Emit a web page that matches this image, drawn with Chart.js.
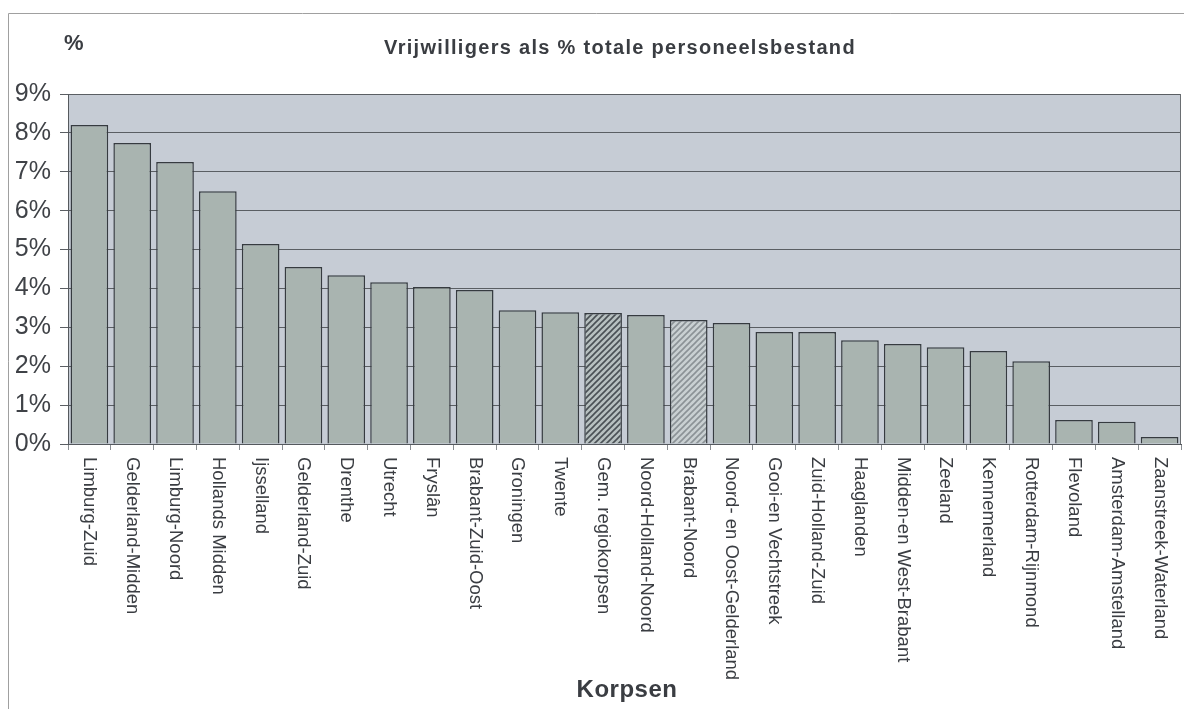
<!DOCTYPE html>
<html>
<head>
<meta charset="utf-8">
<script src="https://cdn.jsdelivr.net/npm/chart.js@4"></script>
<style>
  html, body { margin: 0; padding: 0; background: #fff; }
  #wrap { width: 1184px; height: 709px; position: relative; }
</style>
</head>
<body>
<div id="wrap"><canvas id="chart" width="1184" height="709"></canvas></div>
<script>
const korpsen = [
  "Limburg-Zuid", "Gelderland-Midden", "Limburg-Noord", "Hollands Midden",
  "Ijsselland", "Gelderland-Zuid", "Drenthe", "Utrecht", "Fryslân",
  "Brabant-Zuid-Oost", "Groningen", "Twente", "Gem. regiokorpsen",
  "Noord-Holland-Noord", "Brabant-Noord", "Noord- en Oost-Gelderland",
  "Gooi-en Vechtstreek", "Zuid-Holland-Zuid", "Haaglanden",
  "Midden-en West-Brabant", "Zeeland", "Kennemerland", "Rotterdam-Rijnmond",
  "Flevoland", "Amsterdam-Amstelland", "Zaanstreek-Waterland"
];
const vrijwilligersPct = [
  8.20, 7.74, 7.25, 6.50, 5.14, 4.55, 4.34, 4.16, 4.04, 3.96, 3.44, 3.39, 3.37,
  3.32, 3.19, 3.11, 2.88, 2.88, 2.67, 2.57, 2.49, 2.39, 2.13, 0.62, 0.57, 0.18
];
const yTicks = [0, 1, 2, 3, 4, 5, 6, 7, 8, 9];

const FONT = "'Liberation Sans', Arial, sans-serif";

// hatch patterns for the two highlighted bars
function hatch(bg, line) {
  const c = document.createElement("canvas");
  c.width = 6; c.height = 6;
  const g = c.getContext("2d");
  g.fillStyle = bg;
  g.fillRect(0, 0, 6, 6);
  g.strokeStyle = line;
  g.lineWidth = 1.6;
  g.beginPath();
  g.moveTo(-1, 7); g.lineTo(7, -1);
  g.moveTo(-4, 4); g.lineTo(4, -4);
  g.moveTo(2, 10); g.lineTo(10, 2);
  g.stroke();
  return g.createPattern(c, "repeat");
}

const ctx = document.getElementById("chart").getContext("2d");
const darkHatch = hatch("#b7c0c0", "#4a5055");
const lightHatch = hatch("#c9d0d2", "#8b9296");

const barColors = korpsen.map((k) => {
  if (k === "Gem. regiokorpsen") return darkHatch;
  if (k === "Brabant-Noord") return lightHatch;
  return "#a9b4b0";
});

const decorPlugin = {
  id: "decor",
  beforeDraw: (chart) => {
    const c = chart.ctx;
    const a = chart.chartArea;
    c.save();
    c.fillStyle = "#c6ccd5";
    c.fillRect(a.left, a.top, a.right - a.left, a.bottom - a.top);
    // outer frame
    c.strokeStyle = "#a0a0a0";
    c.lineWidth = 1;
    c.beginPath();
    c.moveTo(8.5, 709);
    c.lineTo(8.5, 13.5);
    c.lineTo(1184, 13.5);
    c.stroke();
    c.restore();
  },
  afterDraw: (chart) => {
    const c = chart.ctx;
    const a = chart.chartArea;
    const x = chart.scales.x;
    c.save();
    // right border of plot
    c.strokeStyle = "#6a6e72";
    c.lineWidth = 1;
    c.beginPath();
    c.moveTo(a.right - 0.5, a.top);
    c.lineTo(a.right - 0.5, a.bottom);
    c.stroke();

    c.fillStyle = "#3a3d42";
    c.font = "bold 22px " + FONT;
    c.textBaseline = "middle";
    c.textAlign = "left";
    c.fillText("%", 64, 44);
    c.textAlign = "center";
    c.font = "bold 20px " + FONT;
    c.letterSpacing = "1.3px";
    c.fillText("Vrijwilligers als % totale personeelsbestand", 620, 48);
    c.letterSpacing = "0.5px";
    c.font = "bold 24px " + FONT;
    c.fillText("Korpsen", 627, 690);
    c.letterSpacing = "0px";

    // category labels, reading top to bottom
    c.font = "18.5px " + FONT;
    c.fillStyle = "#3a3d42";
    c.textAlign = "left";
    c.textBaseline = "middle";
    korpsen.forEach((k, i) => {
      const px = x.getPixelForTick(i);
      c.save();
      c.translate(px, a.bottom + 13);
      c.rotate(Math.PI / 2);
      c.fillText(k, 0, 0);
      c.restore();
    });
    c.restore();
  }
};

new Chart(ctx, {
  type: "bar",
  data: {
    labels: korpsen,
    datasets: [{
      data: vrijwilligersPct,
      backgroundColor: barColors,
      borderColor: "#363b40",
      borderWidth: 1.5,
      barPercentage: 0.88,
      categoryPercentage: 1.0
    }]
  },
  options: {
    responsive: false,
    animation: false,
    layout: { padding: { top: 94, right: 3, left: 0, bottom: 0 } },
    plugins: {
      legend: { display: false },
      tooltip: { enabled: false }
    },
    scales: {
      x: {
        offset: true,
        afterFit: (s) => { s.height = 265; },
        grid: {
          offset: true,
          drawOnChartArea: false,
          color: "#8a8e92",
          tickLength: 6
        },
        border: { color: "#55595e", width: 1 },
        ticks: { display: false }
      },
      y: {
        min: 0,
        max: 9,
        afterFit: (s) => { s.width = 68; },
        afterBuildTicks: (s) => { s.ticks = yTicks.map((v) => ({ value: v })); },
        grid: { color: "#5a5e63", lineWidth: 1, tickLength: 8 },
        border: { color: "#55595e", width: 1 },
        ticks: {
          padding: 9,
          color: "#3f4247",
          font: { family: FONT, size: 25 },
          callback: (v) => v + "%"
        }
      }
    }
  },
  plugins: [decorPlugin]
});
</script>
</body>
</html>
